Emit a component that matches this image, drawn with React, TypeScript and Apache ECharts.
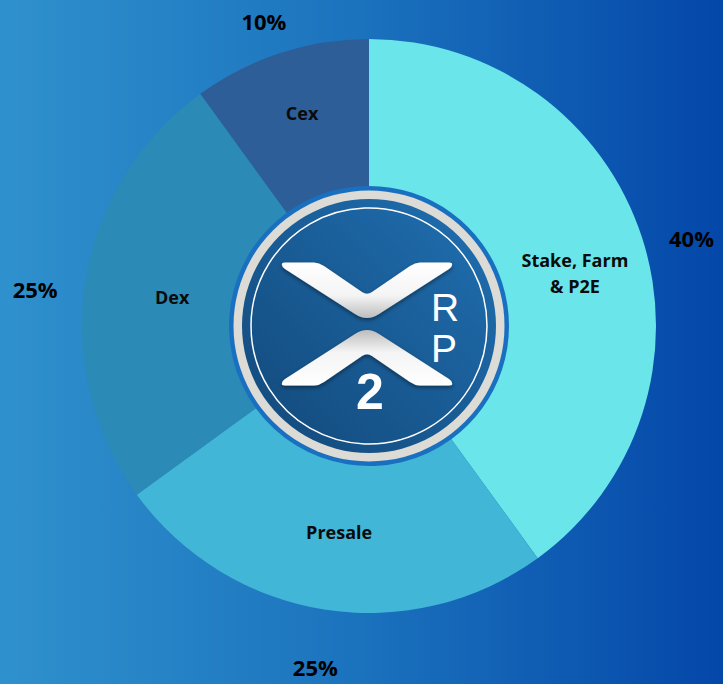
import React, { useEffect, useRef } from "react";
import * as echarts from "echarts";

const categories = ["Stake, Farm\n& P2E", "Presale", "Dex", "Cex"];
const shares = [40, 25, 25, 10];
const sliceColors = ["#6ae5e9", "#42b6d6", "#2b8ab6", "#2d5e97"];

// label nudges (styling only)
const nameOffsets = [[0, 14], [4, -8], [17, 5], [0, -7]];
const pctOffsets = [[3, 0], [0, -8], [0, 0], [0, 0]];

function chevronPath(flip: boolean) {
  const Y = (y: number) => (flip ? -4 - y : y);
  return `M -87 ${Y(-61)} Q -88 ${Y(-63.5)} -84 ${Y(-63.5)} L -55 ${Y(-63.5)} Q -50 ${Y(-63.5)} -45 ${Y(-60)} L -7 ${Y(-34)} Q -2 ${Y(-30.5)} 3 ${Y(-34)} L 41 ${Y(-60)} Q 46 ${Y(-63.5)} 51 ${Y(-63.5)} L 80 ${Y(-63.5)} Q 84 ${Y(-63.5)} 83 ${Y(-61)} Q 83 ${Y(-59)} 80 ${Y(-57)} L 10 ${Y(-12)} Q -2 ${Y(-4)} -14 ${Y(-12)} L -84 ${Y(-57)} Q -87 ${Y(-59)} -87 ${Y(-61)} Z`;
}

echarts.graphic.registerShape("chevTop", echarts.graphic.extendPath(chevronPath(false), {}) as any);
echarts.graphic.registerShape("chevBot", echarts.graphic.extendPath(chevronPath(true), {}) as any);

export default function App() {
  const ref = useRef<HTMLDivElement>(null);
  useEffect(() => {
    document.body.style.margin = "0";
    const chart = echarts.init(ref.current!, null, { renderer: "svg" });
    const cx = 369;
    const cy = 326;
    const chevStyle = (flip: boolean) => ({
      fill: {
        type: "linear",
        x: 0,
        y: flip ? 1 : 0,
        x2: 0,
        y2: flip ? 0 : 1,
        colorStops: [
          { offset: 0, color: "#ffffff" },
          { offset: 0.6, color: "#f4f4f4" },
          { offset: 1, color: "#bdbdbd" },
        ],
      },
      shadowBlur: 4,
      shadowOffsetY: 2,
      shadowColor: "rgba(0,0,0,0.45)",
    });
    const letter = (text: string, x: number, y: number, font: string) => ({
      type: "text",
      x,
      y,
      style: { text, fill: "#ffffff", font, align: "center", verticalAlign: "middle" },
    });
    chart.setOption({
      animation: false,
      backgroundColor: "transparent",
      series: [
        {
          type: "pie",
          center: [cx, cy],
          radius: [140, 287],
          startAngle: 90,
          clockwise: true,
          silent: true,
          itemStyle: { borderWidth: 0 },
          label: {
            show: true,
            position: "inside",
            formatter: "{b}",
            color: "#0b0b0b",
            fontFamily: "Open Sans",
            fontWeight: "bold",
            fontSize: 18,
            lineHeight: 26,
          },
          labelLine: { show: false },
          emphasis: { disabled: true },
          data: categories.map((name, i) => ({
            name,
            value: shares[i],
            itemStyle: { color: sliceColors[i] },
            label: { offset: nameOffsets[i] },
          })),
        },
        {
          type: "pie",
          center: [368, 342],
          radius: [324, 344],
          startAngle: 90,
          clockwise: true,
          silent: true,
          itemStyle: { color: "transparent", borderWidth: 0 },
          label: {
            show: true,
            position: "inside",
            formatter: "{c}%",
            color: "#000000",
            fontFamily: "Open Sans",
            fontWeight: "bold",
            fontSize: 22,
            lineHeight: 20,
          },
          labelLine: { show: false },
          emphasis: { disabled: true },
          data: categories.map((name, i) => ({
            name,
            value: shares[i],
            label: { offset: pctOffsets[i] },
          })),
        },
      ],
      graphic: [
        {
          type: "group",
          x: cx,
          y: cy,
          z: 100,
          children: [
            { type: "circle", shape: { cx: 0, cy: 0, r: 144 }, style: { fill: "#1a70c0" } },
            { type: "circle", shape: { cx: 0, cy: 0, r: 135.5 }, style: { fill: "#dcdbd6" } },
            {
              type: "circle",
              shape: { cx: 0, cy: 0, r: 127 },
              style: {
                fill: {
                  type: "linear",
                  x: 1,
                  y: 0,
                  x2: 0,
                  y2: 1,
                  colorStops: [
                    { offset: 0, color: "#2070b2" },
                    { offset: 1, color: "#124879" },
                  ],
                },
              },
            },
            {
              type: "circle",
              shape: { cx: 0, cy: 0, r: 118 },
              style: { fill: "none", stroke: "#ffffff", lineWidth: 1.5 },
            },
            { type: "chevTop", x: 0, y: 0, style: chevStyle(false) },
            { type: "chevBot", x: 0, y: 0, style: chevStyle(true) },
            letter("R", 76, -19, "39px 'Liberation Sans'"),
            letter("P", 75, 22, "39px 'Liberation Sans'"),
            letter("2", 1, 66, "600 50px 'Liberation Sans'"),
          ],
        },
      ],
    });
    return () => chart.dispose();
  }, []);
  return (
    <div
      ref={ref}
      style={{
        width: 723,
        height: 684,
        background: "linear-gradient(to right, #2f91cd 0%, #1b72bd 50%, #0447a9 100%)",
      }}
    />
  );
}
